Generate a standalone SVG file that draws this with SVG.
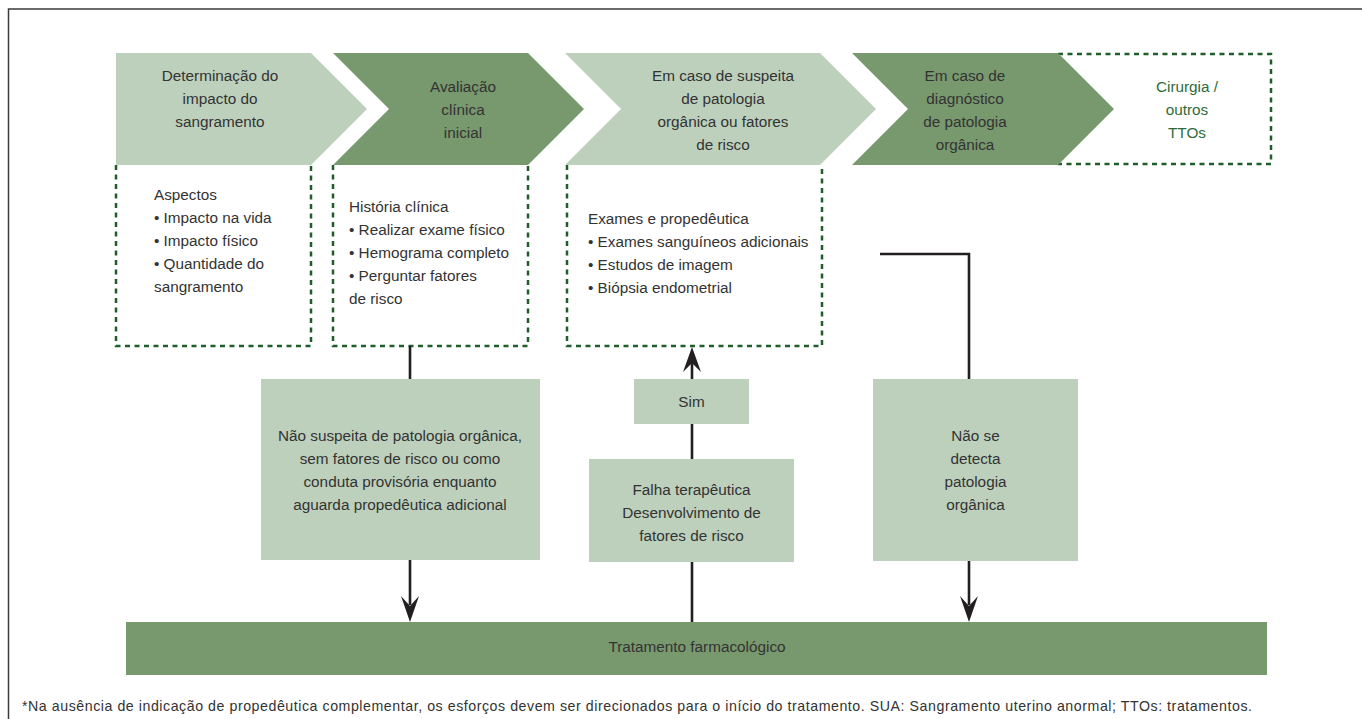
<svg xmlns="http://www.w3.org/2000/svg" width="1362" height="719" viewBox="0 0 1362 719">
<defs>
<style>
.t{font-family:"Liberation Sans",Arial,sans-serif;font-size:15.3px;fill:#333333}
.c{text-anchor:middle}
.g{fill:#2f6b38}
.fn{font-family:"Liberation Sans",Arial,sans-serif;font-size:14.2px;fill:#333333}
.lt{fill:#bdd0bc}
.dk{fill:#78986e}
.dash{fill:none;stroke:#1f5e2b;stroke-width:2.5;stroke-dasharray:5 4.5}
.ln{fill:none;stroke:#231f20;stroke-width:2.6}
.ah{fill:#231f20}
</style>
</defs>
<rect x="0" y="0" width="1362" height="719" fill="#ffffff"/>
<g id="frame">
<path d="M8.5,719 V9 H1362" fill="none" stroke="#3a3a3a" stroke-width="1.5"/>
</g>

<g id="dashed-boxes">
<path class="dash" d="M116,165 V346 H311 V165"/>
<path class="dash" d="M333,165 V346 H528 V165"/>
<path class="dash" d="M567,165 V346 H822 V165"/>
<path class="dash" d="M1058,54 H1271 V164 H1058"/>
</g>

<g id="step1">
<polygon class="lt" points="116,53 311,53 367,109 311,165 116,165"/>
<text class="t c" x="220" y="81">Determinação do</text>
<text class="t c" x="220" y="104">impacto do</text>
<text class="t c" x="220" y="127">sangramento</text>
</g>
<g id="step2">
<polygon class="dk" points="333,53 528,53 584,109 528,165 333,165 389,109"/>
<text class="t c" x="463" y="92">Avaliação</text>
<text class="t c" x="463" y="115">clínica</text>
<text class="t c" x="463" y="138">inicial</text>
</g>
<g id="step3">
<polygon class="lt" points="565,53 820,53 876,109 820,165 565,165 621,109"/>
<text class="t c" x="723" y="81">Em caso de suspeita</text>
<text class="t c" x="723" y="104">de patologia</text>
<text class="t c" x="723" y="127">orgânica ou fatores</text>
<text class="t c" x="723" y="150">de risco</text>
</g>
<g id="step4">
<polygon class="dk" points="852,53 1058,53 1114,109 1058,165 852,165 908,109"/>
<text class="t c" x="965" y="81">Em caso de</text>
<text class="t c" x="965" y="104">diagnóstico</text>
<text class="t c" x="965" y="127">de patologia</text>
<text class="t c" x="965" y="150">orgânica</text>
</g>
<g id="step5">
<text class="t c g" x="1187" y="92">Cirurgia /</text>
<text class="t c g" x="1187" y="115">outros</text>
<text class="t c g" x="1187" y="138">TTOs</text>
</g>

<g id="aspectos">
<text class="t" x="154" y="200">Aspectos</text>
<text class="t" x="154" y="223">• Impacto na vida</text>
<text class="t" x="154" y="246">• Impacto físico</text>
<text class="t" x="154" y="269">• Quantidade do</text>
<text class="t" x="154" y="292">sangramento</text>
</g>
<g id="historia">
<text class="t" x="349" y="212">História clínica</text>
<text class="t" x="349" y="235">• Realizar exame físico</text>
<text class="t" x="349" y="258">• Hemograma completo</text>
<text class="t" x="349" y="281">• Perguntar fatores</text>
<text class="t" x="349" y="304">de risco</text>
</g>
<g id="exames">
<text class="t" x="588" y="224">Exames e propedêutica</text>
<text class="t" x="588" y="247">• Exames sanguíneos adicionais</text>
<text class="t" x="588" y="270">• Estudos de imagem</text>
<text class="t" x="588" y="293">• Biópsia endometrial</text>
</g>

<g id="connectors">
<line class="ln" x1="410" y1="346" x2="410" y2="379"/>
<line class="ln" x1="410" y1="560" x2="410" y2="605"/>
<path class="ah" d="M410,622 L401,596 L410,606 L419,596 Z"/>
<line class="ln" x1="692" y1="622" x2="692" y2="562"/>
<line class="ln" x1="692" y1="459" x2="692" y2="424"/>
<line class="ln" x1="692" y1="379" x2="692" y2="362"/>
<path class="ah" d="M692,347 L683,372 L692,363 L701,372 Z"/>
<path class="ln" d="M880,254 H969 V379"/>
<line class="ln" x1="969" y1="561" x2="969" y2="605"/>
<path class="ah" d="M969,622 L960,596 L969,606 L978,596 Z"/>
</g>

<g id="nao-suspeita">
<rect class="lt" x="261" y="379" width="279" height="181"/>
<text class="t c" x="400" y="441">Não suspeita de patologia orgânica,</text>
<text class="t c" x="400" y="464">sem fatores de risco ou como</text>
<text class="t c" x="400" y="487">conduta provisória enquanto</text>
<text class="t c" x="400" y="510">aguarda propedêutica adicional</text>
</g>
<g id="sim">
<rect class="lt" x="634" y="379" width="115" height="45"/>
<text class="t c" x="691.5" y="407">Sim</text>
</g>
<g id="falha">
<rect class="lt" x="589" y="459" width="205" height="103"/>
<text class="t c" x="691.5" y="495">Falha terapêutica</text>
<text class="t c" x="691.5" y="518">Desenvolvimento de</text>
<text class="t c" x="691.5" y="541">fatores de risco</text>
</g>
<g id="nao-detecta">
<rect class="lt" x="873" y="379" width="205" height="182"/>
<text class="t c" x="975.5" y="441">Não se</text>
<text class="t c" x="975.5" y="464">detecta</text>
<text class="t c" x="975.5" y="487">patologia</text>
<text class="t c" x="975.5" y="510">orgânica</text>
</g>
<g id="tratamento">
<rect class="dk" x="126" y="622" width="1141" height="53"/>
<text class="t c" x="697" y="652">Tratamento farmacológico</text>
</g>

<g id="footnote">
<text class="fn" x="22" y="711" textLength="1230" lengthAdjust="spacing">*Na ausência de indicação de propedêutica complementar, os esforços devem ser direcionados para o início do tratamento. SUA: Sangramento uterino anormal; TTOs: tratamentos.</text>
</g>
</svg>
